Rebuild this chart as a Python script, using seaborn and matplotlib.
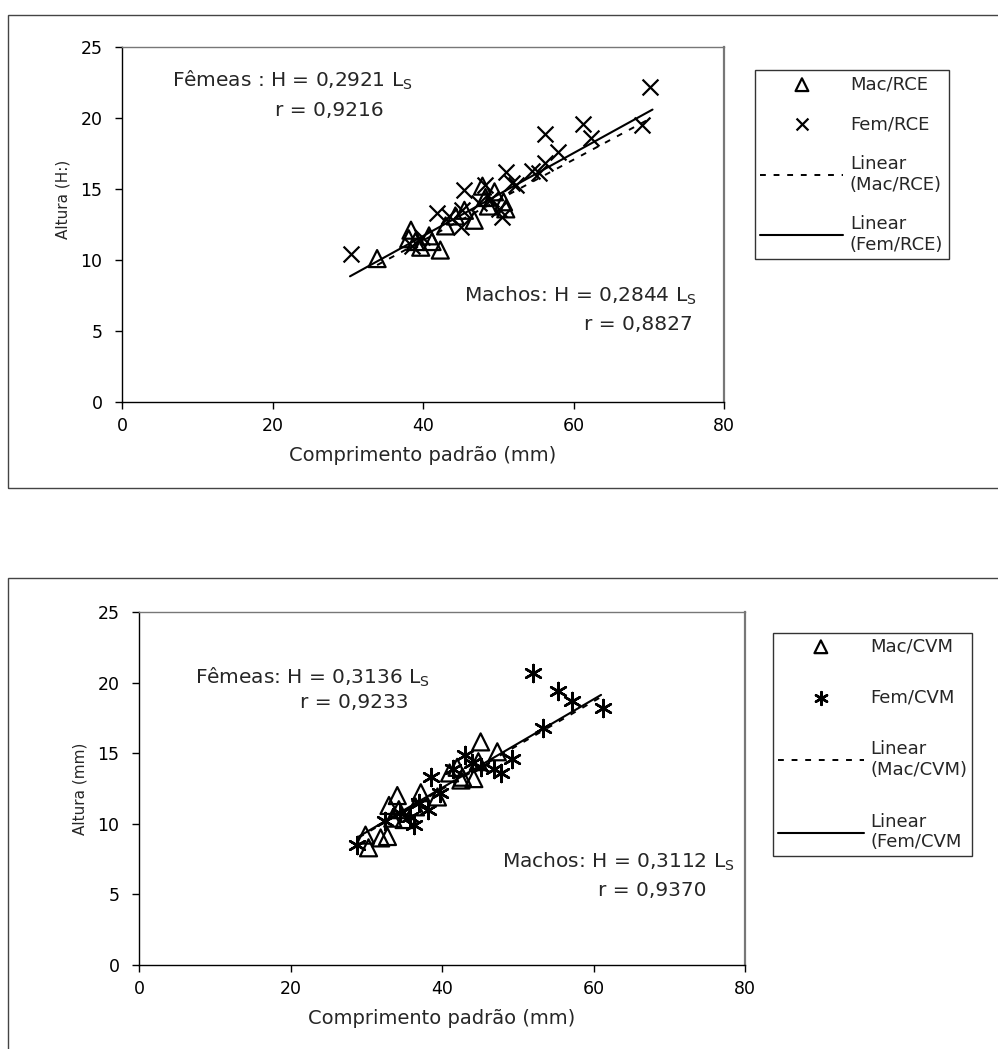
import numpy as np
import pandas as pd
import matplotlib
matplotlib.use("Agg")
import matplotlib.pyplot as plt
from matplotlib.patches import Rectangle
import seaborn as sns

# ---------------- data ----------------
mac_rce_x = [33.9, 38.1, 38.4, 39.0, 39.7, 40.8, 41.2, 42.3, 43.0, 44.3, 46.8, 47.9, 48.3, 48.7, 50.7, 51.0, 49.5, 45.5]
mac_rce_y = [10.1, 11.5, 12.1, 11.3, 10.9, 11.7, 11.3, 10.7, 12.4, 13.1, 12.8, 15.2, 14.4, 13.8, 14.1, 13.6, 14.8, 13.5]

fem_rce_x = [30.4, 38.5, 39.9, 41.9, 43.4, 45.0, 45.2, 45.4, 48.3, 50.1, 50.5, 51.0, 51.8, 52.3, 54.5, 55.4,
             56.2, 56.2, 58.0, 61.3, 62.3, 69.1, 70.2, 47.5, 49.0]
fem_rce_y = [10.4, 11.0, 11.6, 13.3, 13.1, 12.3, 13.5, 14.9, 15.3, 13.6, 13.0, 16.2, 15.4, 15.3, 16.3, 16.1,
             16.8, 18.9, 17.6, 19.6, 18.6, 19.5, 22.2, 14.0, 14.3]

mac_cvm_x = [29.9, 30.3, 31.9, 32.8, 33.0, 34.1, 34.3, 35.0, 37.2, 39.4, 42.0, 42.5, 42.7, 44.2, 45.1, 47.3,
             33.5, 36.5, 41.0, 44.8]
mac_cvm_y = [9.2, 8.3, 9.0, 9.1, 11.3, 12.0, 11.0, 10.3, 12.2, 11.9, 14.0, 13.1, 13.3, 13.2, 15.8, 15.1,
             10.4, 11.2, 13.6, 14.4]

fem_cvm_x = [28.8, 34.5, 35.8, 36.3, 38.1, 38.5, 39.8, 43.1, 45.1, 46.8, 47.8, 49.3, 52.0, 53.3, 55.3, 57.2,
             61.2, 32.5, 37.0, 41.5, 44.0]
fem_cvm_y = [8.5, 10.8, 10.5, 9.9, 11.0, 13.3, 12.2, 14.9, 14.0, 13.9, 13.6, 14.6, 20.7, 16.8, 19.4, 18.7,
             18.2, 10.2, 11.5, 13.9, 14.3]

# trendline slopes (H = b * Ls) and x spans
slope_mac_rce, slope_fem_rce = 0.2844, 0.2921
slope_mac_cvm, slope_fem_cvm = 0.3112, 0.3136
span_mac_rce = [33.9, 70.0]
span_fem_rce = [30.3, 70.5]
span_mac_cvm = [29.0, 61.0]
span_fem_cvm = [29.0, 61.0]

x_ticks = [0, 20, 40, 60, 80]
y_ticks = [0, 5, 10, 15, 20, 25]

# ---------------- style ----------------
sns.set_style("white")
plt.rcParams["font.family"] = ["DejaVu Sans"]
plt.rcParams["mathtext.fontset"] = "dejavusans"

W, H = 998, 1049
fig = plt.figure(figsize=(W / 100, H / 100), dpi=100)


def fx(px):
    return px / W


def fy(py):
    return 1 - py / H


def make_axes(l, r, t, b):
    return fig.add_axes([fx(l), fy(b), fx(r) - fx(l), fy(t) - fy(b)])


def style_axes(ax, ylabel, ylab_y):
    ax.set_xlim(0, 80)
    ax.set_ylim(0, 25)
    ax.set_xticks(x_ticks)
    ax.set_yticks(y_ticks)
    ax.tick_params(axis="both", direction="out", length=5, width=1, colors="black",
                   labelsize=12.5, left=True, bottom=True)
    ax.tick_params(axis="y", pad=9)
    ax.tick_params(axis="x", pad=6)
    for s in ["left", "bottom", "top"]:
        ax.spines[s].set_color("black")
        ax.spines[s].set_linewidth(1.0)
    ax.spines["top"].set_color("#777777")
    ax.spines["right"].set_color("#777777")
    ax.spines["right"].set_linewidth(1.6)
    ax.set_xlabel("Comprimento padrão (mm)", fontsize=14, labelpad=8)
    ax.set_ylabel(ylabel, fontsize=11, labelpad=10)
    ax.yaxis.set_label_coords(-0.085, ylab_y)
    ax.grid(False)


def trend(ax, span, slope, ls, label):
    xs = np.array(span)
    df = pd.DataFrame({"x": xs, "y": slope * xs})
    sns.lineplot(data=df, x="x", y="y", ax=ax, color="black", lw=1.5 if ls == "-" else 1.4,
                 linestyle=ls, label=label)
    if ls != "-":
        ax.lines[-1].set_dashes((3, 4))


ANN = 14.5

# ---------------- top chart ----------------
fig.add_artist(Rectangle((fx(8), fy(488)), 1.0, fy(15) - fy(488), transform=fig.transFigure,
                         fill=False, ec="#444444", lw=1.0))
ax1 = make_axes(122, 724, 47, 402)
sns.scatterplot(x=mac_rce_x, y=mac_rce_y, ax=ax1, marker="^", s=150, facecolors="none",
                edgecolors="black", linewidths=1.6, label="Mac/RCE", zorder=3)
sns.scatterplot(x=fem_rce_x, y=fem_rce_y, ax=ax1, marker="x", s=130, color="black",
                linewidths=1.6, label="Fem/RCE", zorder=3)
trend(ax1, span_mac_rce, slope_mac_rce, "--", "Linear\n(Mac/RCE)")
trend(ax1, span_fem_rce, slope_fem_rce, "-", "Linear\n(Fem/RCE)")
style_axes(ax1, "Altura (H:)", 0.57)
leg1 = ax1.legend(loc="upper left", bbox_to_anchor=(fx(755), fy(70)), bbox_transform=fig.transFigure,
                  frameon=True, fancybox=False, edgecolor="black", fontsize=13, handlelength=4.6,
                  labelspacing=1.2, borderpad=0.3, handletextpad=0.35, borderaxespad=0,
                  markerscale=0.75)
leg1.get_frame().set_linewidth(1.0)

fig.text(fx(172), fy(80), "Fêmeas : H = 0,2921 L$_\\mathrm{S}$", fontsize=ANN, va="center", ha="left")
fig.text(fx(275), fy(110), "r = 0,9216", fontsize=ANN, va="center", ha="left")
fig.text(fx(697), fy(296), "Machos: H = 0,2844 L$_\\mathrm{S}$", fontsize=ANN, va="center", ha="right")
fig.text(fx(693), fy(325), "r = 0,8827", fontsize=ANN, va="center", ha="right")

# ---------------- bottom chart ----------------
fig.add_artist(Rectangle((fx(8), fy(1060)), 1.0, fy(578) - fy(1060), transform=fig.transFigure,
                         fill=False, ec="#444444", lw=1.0))
ax2 = make_axes(139, 745, 612, 965)
sns.scatterplot(x=mac_cvm_x, y=mac_cvm_y, ax=ax2, marker="^", s=150, facecolors="none",
                edgecolors="black", linewidths=1.6, label="Mac/CVM", zorder=3)
sns.scatterplot(x=fem_cvm_x, y=fem_cvm_y, ax=ax2, marker=(6, 2, 0), s=150, color="black",
                linewidths=1.8, label="Fem/CVM", zorder=3)
trend(ax2, span_mac_cvm, slope_mac_cvm, "--", "Linear\n(Mac/CVM)")
trend(ax2, span_fem_cvm, slope_fem_cvm, "-", "Linear\n(Fem/CVM")
style_axes(ax2, "Altura (mm)", 0.5)
leg2 = ax2.legend(loc="upper left", bbox_to_anchor=(fx(773), fy(633)), bbox_transform=fig.transFigure,
                  frameon=True, fancybox=False, edgecolor="black", fontsize=13, handlelength=4.8,
                  labelspacing=1.85, borderpad=0.25, handletextpad=0.35, borderaxespad=0,
                  markerscale=0.75)
leg2.get_frame().set_linewidth(1.0)

fig.text(fx(195), fy(677), "Fêmeas: H = 0,3136 L$_\\mathrm{S}$", fontsize=ANN, va="center", ha="left")
fig.text(fx(300), fy(703), "r = 0,9233", fontsize=ANN, va="center", ha="left")
fig.text(fx(735), fy(862), "Machos: H = 0,3112 L$_\\mathrm{S}$", fontsize=ANN, va="center", ha="right")
fig.text(fx(706), fy(890), "r = 0,9370", fontsize=ANN, va="center", ha="right")

fig.savefig("out.png", dpi=100, facecolor="white")
